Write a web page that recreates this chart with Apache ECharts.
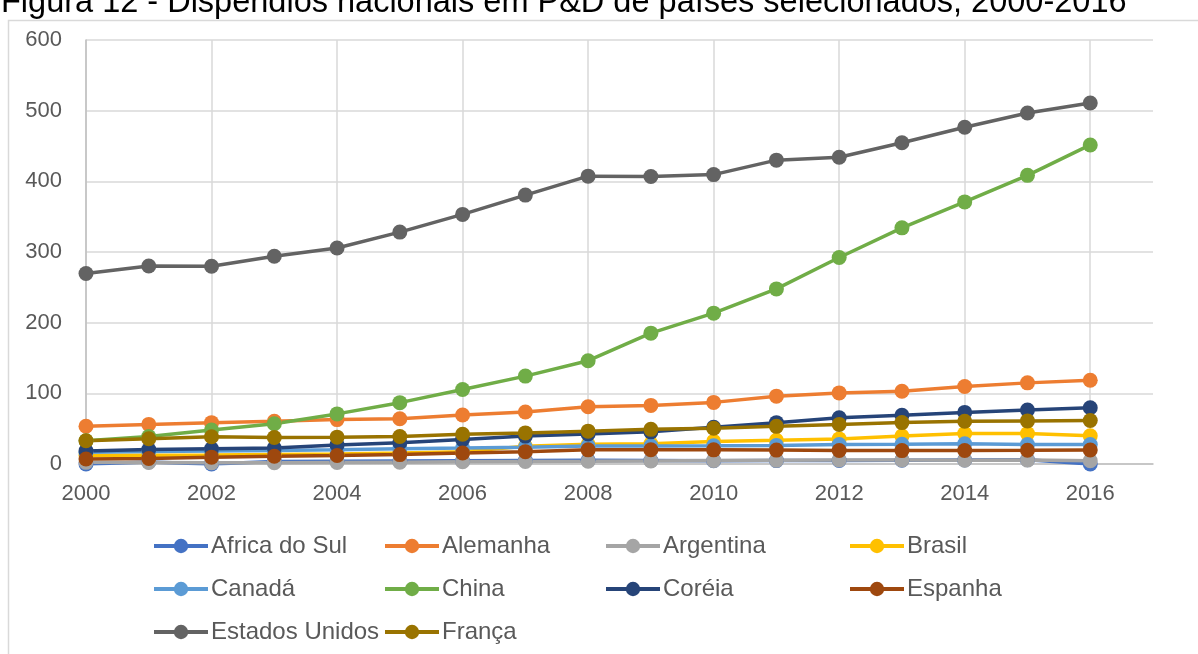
<!DOCTYPE html>
<html>
<head>
<meta charset="utf-8">
<script src="https://cdn.jsdelivr.net/npm/echarts@6/dist/echarts.min.js"></script>
<style>
  html, body { margin: 0; padding: 0; background: #fff; }
  #chart { width: 1198px; height: 654px; }
</style>
</head>
<body>
<div id="chart"></div>
<script>
// Dispêndios nacionais em P&D (bilhões US$ PPC), 2000-2016
const years = [2000, 2001, 2002, 2003, 2004, 2005, 2006, 2007, 2008, 2009, 2010, 2011, 2012, 2013, 2014, 2015, 2016];

const africaDoSul   = [0, 2.9, 0, 3.5, 3.9, 4.3, 4.7, 5.0, 5.2, 5.0, 4.6, 4.8, 5.0, 5.4, 5.7, 6.0, 0];
const alemanha      = [53.5, 56.0, 58.5, 60.5, 62.8, 64.0, 69.4, 73.6, 81.1, 82.9, 87.2, 96.0, 100.6, 103.0, 109.6, 114.8, 118.5];
const argentina     = [2.3, 2.2, 1.6, 1.9, 2.2, 2.6, 3.1, 3.6, 3.9, 4.4, 4.8, 5.2, 5.6, 5.7, 5.3, 5.5, 4.6];
const brasil        = [12.0, 12.5, 12.8, 13.5, 14.0, 15.5, 17.5, 25.0, 28.0, 28.5, 32.0, 33.5, 35.5, 39.5, 43.0, 43.0, 40.0];
const canada        = [16.5, 17.8, 18.3, 19.0, 20.2, 21.5, 22.5, 23.8, 25.5, 25.5, 25.8, 26.3, 27.5, 27.8, 28.5, 27.5, 27.5];
const china         = [33.0, 38.9, 48.0, 57.0, 70.9, 86.8, 105.5, 124.4, 146.2, 185.2, 213.5, 247.8, 292.2, 334.2, 370.9, 408.5, 451.5];
const coreia        = [18.5, 20.5, 21.5, 22.5, 27.0, 30.0, 34.5, 39.5, 42.5, 45.5, 52.0, 58.5, 65.5, 69.0, 73.0, 76.5, 79.5];
const espanha       = [7.0, 7.8, 9.7, 11.0, 12.0, 13.3, 15.5, 17.5, 20.0, 20.2, 20.0, 19.7, 19.2, 19.0, 19.2, 19.4, 19.8];
const estadosUnidos = [269.5, 280.2, 279.8, 293.9, 305.6, 328.2, 353.2, 380.5, 407.3, 406.8, 409.5, 430.0, 434.0, 454.6, 476.5, 496.7, 510.8];
const franca        = [33.0, 35.7, 38.5, 37.5, 38.0, 39.0, 42.0, 44.0, 46.5, 49.0, 50.5, 53.3, 56.0, 58.6, 60.5, 61.0, 61.5];

const seriesDefs = [
  { name: 'Africa do Sul',  values: africaDoSul,   color: '#4472C4' },
  { name: 'Alemanha',       values: alemanha,      color: '#ED7D31' },
  { name: 'Argentina',      values: argentina,     color: '#A5A5A5' },
  { name: 'Brasil',         values: brasil,        color: '#FFC000' },
  { name: 'Canadá',         values: canada,        color: '#5B9BD5' },
  { name: 'China',          values: china,         color: '#70AD47' },
  { name: 'Coréia',         values: coreia,        color: '#264478' },
  { name: 'Espanha',        values: espanha,       color: '#9E480E' },
  { name: 'Estados Unidos', values: estadosUnidos, color: '#636363' },
  { name: 'França',         values: franca,        color: '#997300' }
];

const titleText = 'Figura 12 - Dispêndios nacionais em P&D de países selecionados, 2000-2016';
const fontFamily = '"Liberation Sans", Arial, sans-serif';
const textColor = '#595959';
const gridColor = '#D9D9D9';

// legend laid out as four columns of three rows
const legendColumns = [
  { left: 152, names: ['Africa do Sul', 'Canadá', 'Estados Unidos'] },
  { left: 383, names: ['Alemanha', 'China', 'França'] },
  { left: 604, names: ['Argentina', 'Coréia'] },
  { left: 848, names: ['Brasil', 'Espanha'] }
];

const chart = echarts.init(document.getElementById('chart'), null, { renderer: 'canvas' });

chart.setOption({
  animation: false,
  backgroundColor: '#fff',
  title: {
    text: titleText,
    left: -4,
    top: -18,
    textStyle: { fontFamily, fontSize: 32.5, fontWeight: 'normal', color: '#000' }
  },
  graphic: [{
    type: 'rect',
    silent: true,
    shape: { x: 8.5, y: 20.5, width: 1300, height: 800 },
    style: { fill: 'none', stroke: gridColor, lineWidth: 1.5 }
  }],
  grid: { left: 86, right: 45, top: 40, bottom: 190, containLabel: false },
  xAxis: {
    type: 'value',
    min: 2000,
    max: 2017,
    interval: 2,
    axisLine: { show: true, lineStyle: { color: '#BFBFBF', width: 1.5 } },
    axisTick: { show: false },
    axisLabel: {
      showMaxLabel: false,
      margin: 19,
      color: textColor,
      fontFamily,
      fontSize: 22,
      formatter: v => String(v)
    },
    splitLine: { show: true, showMaxLine: false, lineStyle: { color: gridColor, width: 1.5 } }
  },
  yAxis: {
    type: 'value',
    min: 0,
    max: 600,
    interval: 100,
    axisLine: { show: true, lineStyle: { color: '#BFBFBF', width: 1.5 } },
    axisTick: { show: false },
    axisLabel: { margin: 24, color: textColor, fontFamily, fontSize: 22 },
    splitLine: { show: true, lineStyle: { color: gridColor, width: 1.5 } }
  },
  legend: legendColumns.map(col => ({
    orient: 'vertical',
    left: col.left,
    top: 534,
    padding: 0,
    itemGap: 19,
    itemWidth: 54,
    itemHeight: 18,
    lineStyle: { width: 4 },
    data: col.names,
    textStyle: { color: textColor, fontFamily, fontSize: 24, padding: [0, 0, 0, -2] }
  })),
  series: seriesDefs.map(s => ({
    name: s.name,
    type: 'line',
    data: years.map((y, i) => [y, s.values[i]]),
    symbol: 'circle',
    symbolSize: 15,
    showSymbol: true,
    lineStyle: { color: s.color, width: 3.5 },
    itemStyle: { color: s.color },
    emphasis: { disabled: true }
  }))
});
</script>
</body>
</html>
